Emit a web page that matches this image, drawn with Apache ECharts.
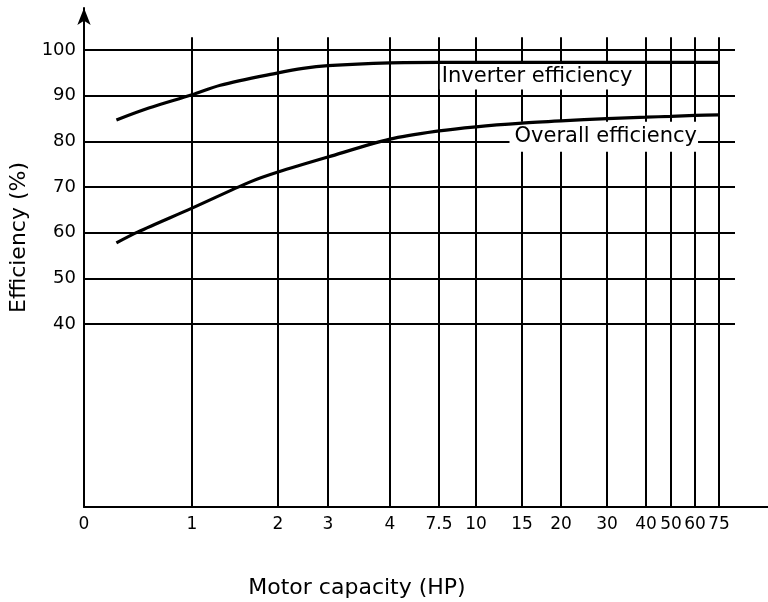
<!DOCTYPE html>
<html>
<head>
<meta charset="utf-8">
<script src="https://cdn.jsdelivr.net/npm/echarts@6/dist/echarts.min.js"></script>
<style>
html,body{margin:0;padding:0;background:#fff;}
#chart{width:768px;height:602px;}
</style>
</head>
<body>
<div id="chart"></div>
<script>
// ---------- DATA ----------
const hpTickValues = [0, 1, 2, 3, 4, 7.5, 10, 15, 20, 30, 40, 50, 60, 75];
const hpTickLabels = ['0', '1', '2', '3', '4', '7.5', '10', '15', '20', '30', '40', '50', '60', '75'];
const efficiencyTicks = [40, 50, 60, 70, 80, 90, 100];

const inverterHP  = [0.3, 0.6, 1, 1.33, 2, 2.5, 3, 4, 7.5, 10, 15, 20, 30, 40, 50, 60, 75];
const inverterEff = [84.7, 87.3, 90.2, 92.3, 95.0, 96.0, 96.6, 97.2, 97.3, 97.3, 97.3, 97.3, 97.3, 97.3, 97.3, 97.3, 97.3];

const overallHP  = [0.3, 0.5, 1, 1.67, 2, 3, 4, 7.5, 10, 15, 20, 30, 40, 50, 60, 75];
const overallEff = [57.8, 60.2, 65.4, 71.1, 73.3, 76.6, 80.5, 82.3, 83.2, 84.0, 84.5, 85.0, 85.3, 85.5, 85.7, 85.8];

const seriesNames = ['Inverter efficiency', 'Overall efficiency'];
const xTitle = 'Motor capacity (HP)';
const yTitle = 'Efficiency (%)';

// ---------- AXIS SCALE (non-uniform HP scale of the original chart) ----------
// axis units along the x axis for each HP tick
const hpScaleStops = [0, 108, 194, 244, 306, 355, 392, 438, 477, 523, 562, 587, 611, 635];
function hpToAxis(hp) {
  for (let i = 0; i < hpTickValues.length - 1; i++) {
    const a = hpTickValues[i], b = hpTickValues[i + 1];
    if (hp >= a && hp <= b) {
      return hpScaleStops[i] + (hp - a) / (b - a) * (hpScaleStops[i + 1] - hpScaleStops[i]);
    }
  }
  return hpScaleStops[hpScaleStops.length - 1];
}
function axisToLabel(v) {
  for (let i = 0; i < hpScaleStops.length; i++) {
    if (Math.abs(hpScaleStops[i] - v) < 0.01) return hpTickLabels[i];
  }
  return '';
}

const FONT = 'DejaVu Sans';
const X_MAX = 684, GRID_X_END = 651, Y_MAX = 109.2, VLINE_TOP = 102.8;

const gridLines = [];
hpTickValues.slice(1).forEach(hp => {
  gridLines.push([{ coord: [hpToAxis(hp), 0] }, { coord: [hpToAxis(hp), VLINE_TOP] }]);
});
efficiencyTicks.forEach(v => {
  gridLines.push([{ coord: [0, v] }, { coord: [GRID_X_END, v] }]);
});

const chart = echarts.init(document.getElementById('chart'), null, { renderer: 'canvas' });

const labelBase = {
  show: true,
  position: 'inside',
  fontFamily: FONT,
  fontSize: 21,
  color: '#000',
  backgroundColor: '#fff'
};

chart.setOption({
  animation: false,
  backgroundColor: '#fff',
  grid: { left: 84, right: 0, top: 8, bottom: 95, containLabel: false, outerBoundsMode: 'none' },
  xAxis: {
    type: 'value',
    min: 0,
    max: X_MAX,
    name: xTitle,
    nameLocation: 'middle',
    nameGap: 70,
    nameTextStyle: { fontFamily: FONT, fontSize: 22, color: '#000', padding: [0, 138, 0, 0] },
    axisLine: { show: true, lineStyle: { color: '#000', width: 2 } },
    axisTick: { show: false },
    splitLine: { show: false },
    axisLabel: {
      customValues: hpTickValues.map(hpToAxis),
      formatter: v => axisToLabel(v),
      fontFamily: FONT,
      fontSize: 17,
      color: '#000',
      margin: 9
    }
  },
  yAxis: {
    type: 'value',
    min: 0,
    max: Y_MAX,
    interval: 10,
    name: yTitle,
    nameLocation: 'middle',
    nameGap: 46,
    nameTextStyle: { fontFamily: FONT, fontSize: 22, color: '#000', padding: [0, 0, 0, 40] },
    axisLine: { show: true, symbol: ['none', 'arrow'], symbolSize: [10, 17], lineStyle: { color: '#000', width: 2 } },
    axisTick: { show: false },
    splitLine: { show: false },
    axisLabel: {
      formatter: v => (efficiencyTicks.indexOf(v) >= 0 ? String(v) : ''),
      fontFamily: FONT,
      fontSize: 18,
      color: '#000',
      margin: 8
    }
  },
  series: [
    {
      name: seriesNames[0],
      type: 'line',
      z: 4,
      smooth: 0.3,
      symbol: 'none',
      lineStyle: { color: '#000', width: 3.2 },
      data: inverterHP.map((h, i) => [hpToAxis(h), inverterEff[i]]),
      markLine: {
        z: 1,
        silent: true,
        symbol: ['none', 'none'],
        label: { show: false },
        lineStyle: { color: '#000', width: 2, type: 'solid' },
        emphasis: { disabled: true },
        data: gridLines
      },
      markPoint: {
        z: 3,
        silent: true,
        symbol: 'rect',
        symbolSize: 1,
        itemStyle: { color: 'rgba(0,0,0,0)' },
        label: Object.assign({}, labelBase, { padding: [3, 6, 2, 2] }),
        data: [{ coord: [hpToAxis(17.2), 94.2], value: seriesNames[0], label: { formatter: seriesNames[0] } }]
      }
    },
    {
      name: seriesNames[1],
      type: 'line',
      z: 4,
      smooth: 0.3,
      symbol: 'none',
      lineStyle: { color: '#000', width: 3.2 },
      data: overallHP.map((h, i) => [hpToAxis(h), overallEff[i]]),
      markPoint: {
        z: 3,
        silent: true,
        symbol: 'rect',
        symbolSize: 1,
        itemStyle: { color: 'rgba(0,0,0,0)' },
        label: Object.assign({}, labelBase, { padding: [9, 1, 0, 5] }),
        data: [{ coord: [hpToAxis(29.3), 81.0], value: seriesNames[1], label: { formatter: seriesNames[1] } }]
      }
    }
  ]
});
</script>
</body>
</html>
